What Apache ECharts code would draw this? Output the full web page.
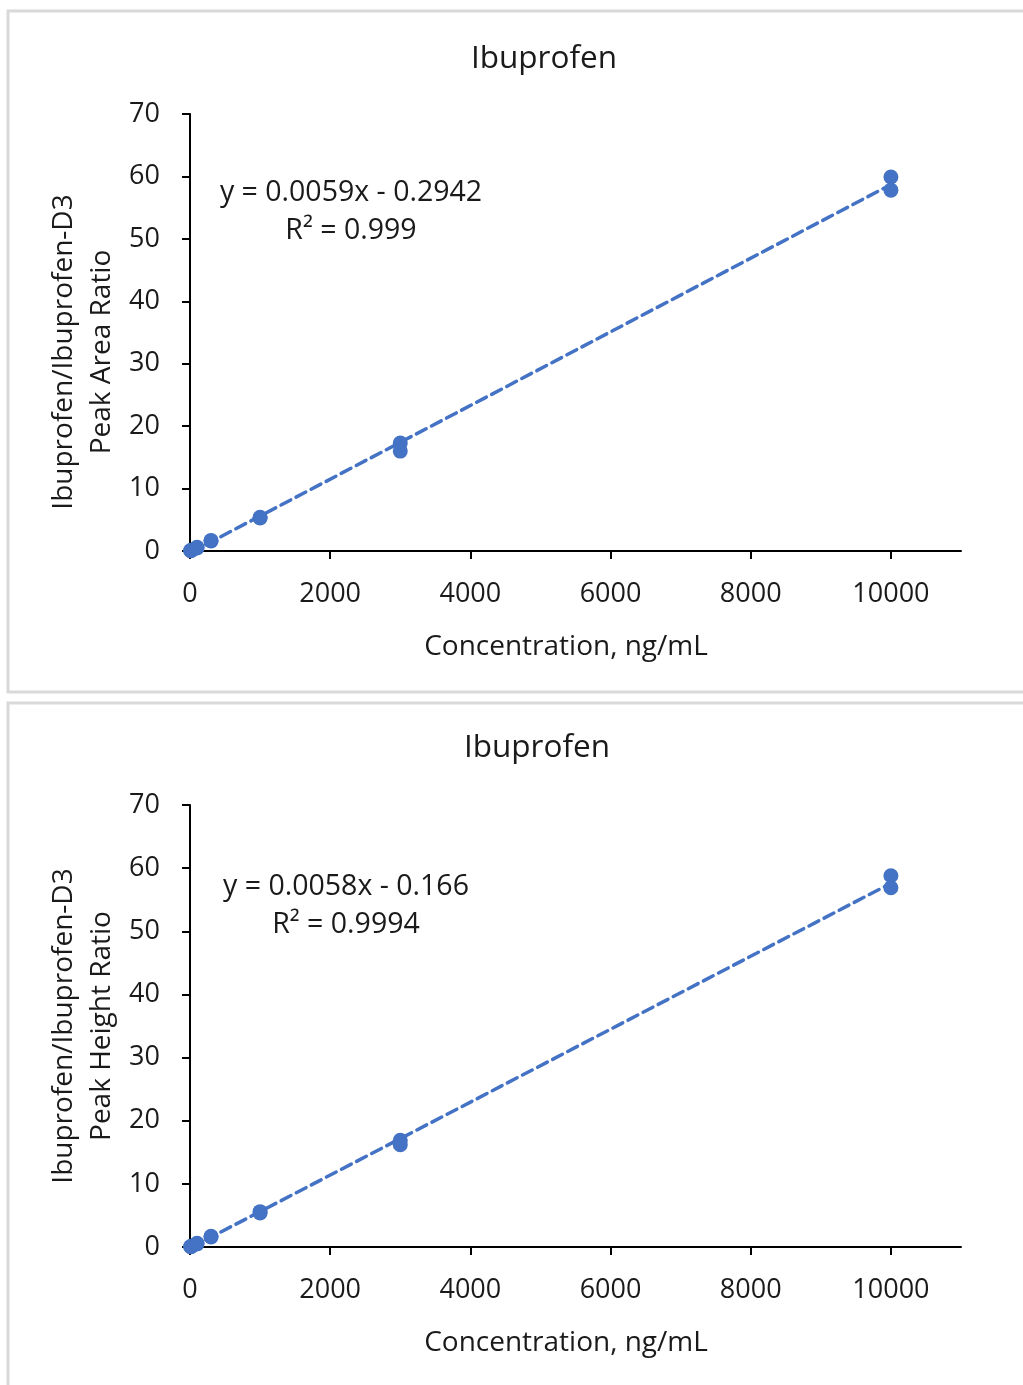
<!DOCTYPE html>
<html>
<head>
<meta charset="utf-8">
<title>Ibuprofen calibration</title>
<script src="https://cdn.jsdelivr.net/npm/echarts@6/dist/echarts.min.js"></script>
<style>
  html, body { margin: 0; padding: 0; background: #fff; }
  #Chart { width: 1023px; height: 1385px; }
</style>
</head>
<body>
<div id="Chart"></div>
<script>
// calibration points (concentration ng/mL, ratio)
var areaConc   = [10, 10, 30, 100, 100, 300, 300, 1000, 1000, 3000, 3000, 10000, 10000];
var areaRatio  = [0.05, 0.08, 0.15, 0.5, 0.6, 1.6, 1.7, 5.3, 5.4, 17.3, 16.0, 59.9, 57.8];
var heightConc  = [10, 10, 30, 100, 100, 300, 300, 1000, 1000, 3000, 3000, 10000, 10000];
var heightRatio = [0.05, 0.08, 0.15, 0.5, 0.6, 1.6, 1.7, 5.4, 5.6, 16.9, 16.2, 58.8, 56.9];

// trendline end points (as drawn)
var areaTrend   = [[10, -0.24], [10000, 58.7]];
var heightTrend = [[10, -0.11], [10000, 57.6]];

var xTicks = [0, 2000, 4000, 6000, 8000, 10000];
var yTicks = [0, 10, 20, 30, 40, 50, 60, 70];

var titleText = 'Ibuprofen';
var xName = 'Concentration, ng/mL';
var yNameTop = 'Ibuprofen/Ibuprofen-D3\nPeak Area Ratio';
var yNameBottom = 'Ibuprofen/Ibuprofen-D3\nPeak Height Ratio';
var eqTop = 'y = 0.0059x - 0.2942\nR\u00B2 = 0.999';
var eqBottom = 'y = 0.0058x - 0.166\nR\u00B2 = 0.9994';

var FONT = '"Open Sans", "Noto Sans", sans-serif';
var TXT = '#1a1a1a';
var BLUE = '#4472C4';

function pairs(xs, ys) {
    var out = [];
    for (var i = 0; i < xs.length; i++) out.push([xs[i], ys[i]]);
    return out;
}

function makeX(gridIndex) {
    return {
        type: 'value', gridIndex: gridIndex, min: 0, max: 11000, interval: 2000,
        splitLine: {show: false},
        axisLine: {show: true, onZero: false, lineStyle: {color: '#000', width: 2}},
        axisTick: {show: true, length: 8, customValues: xTicks, lineStyle: {color: '#000', width: 2}},
        axisLabel: {
            customValues: xTicks, margin: 30, color: TXT, fontSize: 27, fontFamily: FONT,
            formatter: function (v) { return String(v); }
        }
    };
}

function makeY(gridIndex) {
    return {
        type: 'value', gridIndex: gridIndex, min: 0, max: 70, interval: 10,
        splitLine: {show: false},
        axisLine: {show: true, onZero: false, lineStyle: {color: '#000', width: 2}},
        axisTick: {show: true, length: 8, lineStyle: {color: '#000', width: 2}},
        axisLabel: {margin: 30, color: TXT, fontSize: 27, fontFamily: FONT}
    };
}

function txt(x, y, text, size, extra) {
    var o = {
        type: 'text', x: x, y: y, z: 10,
        style: {text: text, fill: TXT, font: size + 'px ' + FONT, align: 'center', verticalAlign: 'middle', lineHeight: 38}
    };
    if (extra) for (var k in extra) o[k] = extra[k];
    return o;
}

var ChartOption = {
    animation: false,
    textStyle: {fontFamily: FONT},
    grid: [
        {left: 190, top: 114, width: 771, height: 437},
        {left: 190, top: 805, width: 771, height: 442}
    ],
    xAxis: [makeX(0), makeX(1)],
    yAxis: [makeY(0), makeY(1)],
    graphic: [
        {type: 'rect', shape: {x: 8, y: 11, width: 1030, height: 681}, style: {fill: 'none', stroke: '#d9d9d9', lineWidth: 3}},
        {type: 'rect', shape: {x: 8, y: 703, width: 1030, height: 700}, style: {fill: 'none', stroke: '#d9d9d9', lineWidth: 3}},
        txt(544, 59, titleText, 31.5),
        txt(537, 748, titleText, 31.5),
        txt(566, 647, xName, 28),
        txt(566, 1343, xName, 28),
        txt(83, 352, yNameTop, 28, {rotation: Math.PI / 2}),
        txt(83, 1026, yNameBottom, 28, {rotation: Math.PI / 2}),
        txt(351, 212, eqTop, 28.5),
        txt(346, 906, eqBottom, 28.5)
    ],
    series: [
        {
            type: 'line', xAxisIndex: 0, yAxisIndex: 0, data: areaTrend, symbol: 'none', clip: false, z: 1,
            lineStyle: {color: BLUE, width: 3.5, type: [11, 6], cap: 'round'}
        },
        {
            type: 'scatter', xAxisIndex: 0, yAxisIndex: 0, data: pairs(areaConc, areaRatio), symbolSize: 15, clip: false, z: 2,
            itemStyle: {color: BLUE, opacity: 1}
        },
        {
            type: 'line', xAxisIndex: 1, yAxisIndex: 1, data: heightTrend, symbol: 'none', clip: false, z: 1,
            lineStyle: {color: BLUE, width: 3.5, type: [11, 6], cap: 'round'}
        },
        {
            type: 'scatter', xAxisIndex: 1, yAxisIndex: 1, data: pairs(heightConc, heightRatio), symbolSize: 15, clip: false, z: 2,
            itemStyle: {color: BLUE, opacity: 1}
        }
    ]
};

var Chart = echarts.init(document.getElementById('Chart'));
Chart.setOption(ChartOption);
</script>
</body>
</html>
